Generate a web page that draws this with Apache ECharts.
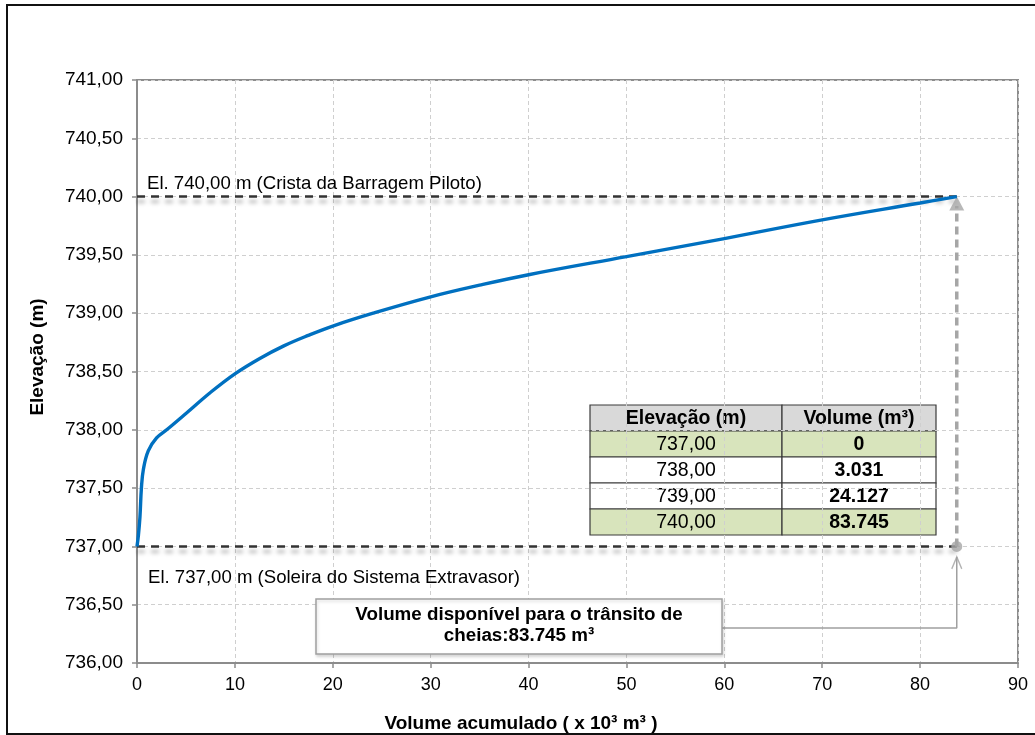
<!DOCTYPE html>
<html>
<head>
<meta charset="utf-8">
<title>Curva cota-volume</title>
<script src="https://cdn.jsdelivr.net/npm/echarts@6/dist/echarts.min.js"></script>
<style>
  html, body { margin: 0; padding: 0; background: #ffffff; }
  #chart { width: 1035px; height: 735px; }
</style>
</head>
<body>
<div id="chart"></div>
<script>
// Curva cota x volume acumulado (volume em 10³ m³, elevação em m)
const curveVolume = [0, 0.15, 0.3, 0.45, 0.65, 1.15, 2.0, 3.031, 5, 7.5, 10, 12.5, 15, 17.5, 20, 24.127, 30, 35, 40, 50, 60, 70, 80, 83.745];
const curveElevation = [737.00, 737.10, 737.25, 737.50, 737.66, 737.82, 737.93, 738.00, 738.14, 738.32, 738.48, 738.61, 738.72, 738.81, 738.89, 739.00, 739.14, 739.24, 739.33, 739.485, 739.64, 739.80, 739.945, 740.00];

// Tabela de cotas e volumes (m³)
const tableElevation = [737, 738, 739, 740];
const tableVolume = [0, 3031, 24127, 83745];
const tableHeader = ['Elevação (m)', 'Volume (m³)'];

// Cotas de referência
const crestElevation = 740;
const spillwayElevation = 737;
const crestLabel = 'El. 740,00 m (Crista da Barragem Piloto)';
const spillwayLabel = 'El. 737,00 m (Soleira do Sistema Extravasor)';
const xTitle = 'Volume acumulado ( x 10³ m³ )';
const yTitle = 'Elevação (m)';

// Volume útil para o trânsito de cheias, em 10³ m³
const floodVolume = tableVolume[tableVolume.length - 1] / 1000;
const fmtThousands = v => v.toLocaleString('de-DE');
const floodText = 'Volume disponível para o trânsito de\ncheias:' + fmtThousands(tableVolume[tableVolume.length - 1]) + ' m³';

// Apoio da seta de anotação (coordenadas do gráfico)
const noteY = 736.30;
const noteX = 59.75;
const noteTipY = 736.91;

const FONT = '"Liberation Sans", Arial, Helvetica, sans-serif';

const chart = echarts.init(document.getElementById('chart'), null, { renderer: 'canvas' });

// Tabela desenhada como grupo de retângulos e textos
function buildTable() {
  const x0 = 590, xMid = 782, x1 = 936;
  const rowsY = [405, 431, 457, 483, 509, 535];
  const fills = ['#d9d9d9', '#d8e4bc', '#ffffff', '#ffffff', '#d8e4bc'];
  const children = [];
  for (let r = 0; r < 5; r++) {
    const y = rowsY[r], h = rowsY[r + 1] - rowsY[r];
    children.push({ type: 'rect', shape: { x: x0, y: y, width: xMid - x0, height: h },
      style: { fill: fills[r], stroke: '#3a3a3a', lineWidth: 1.2 } });
    children.push({ type: 'rect', shape: { x: xMid, y: y, width: x1 - xMid, height: h },
      style: { fill: fills[r], stroke: '#3a3a3a', lineWidth: 1.2 } });
    let left, right, boldLeft, boldRight;
    if (r === 0) {
      left = tableHeader[0]; right = tableHeader[1]; boldLeft = true; boldRight = true;
    } else {
      left = tableElevation[r - 1].toFixed(2).replace('.', ',');
      right = fmtThousands(tableVolume[r - 1]);
      boldLeft = false; boldRight = true;
    }
    children.push({ type: 'text', x: (x0 + xMid) / 2, y: y + h / 2 + 1,
      style: { text: left, fill: '#000', font: (boldLeft ? 'bold ' : '') + '19.5px ' + FONT,
        align: 'center', verticalAlign: 'middle' } });
    children.push({ type: 'text', x: (xMid + x1) / 2, y: y + h / 2 + 1,
      style: { text: right, fill: '#000', font: (boldRight ? 'bold ' : '') + '19.5px ' + FONT,
        align: 'center', verticalAlign: 'middle' } });
  }
  return { type: 'group', z: 100, children: children };
}

const option = {
  animation: false,
  backgroundColor: '#ffffff',
  grid: {
    left: 137, right: 17, top: 80, bottom: 72,
    show: true, borderColor: '#8c8c8c', borderWidth: 2, backgroundColor: 'transparent'
  },
  xAxis: {
    type: 'value', min: 0, max: 90, interval: 10,
    axisLine: { show: true, lineStyle: { color: '#8c8c8c', width: 2 } },
    axisTick: { show: true, inside: false, length: 5, lineStyle: { color: '#8c8c8c', width: 1.5 } },
    axisLabel: { color: '#000', fontFamily: FONT, fontSize: 18, margin: 13 },
    splitLine: { show: true, lineStyle: { color: '#cfcfcf', type: [4, 3], width: 1 } }
  },
  yAxis: {
    type: 'value', min: 736, max: 741, interval: 0.5,
    axisLine: { show: true, lineStyle: { color: '#8c8c8c', width: 2 } },
    axisTick: { show: true, inside: false, length: 5, lineStyle: { color: '#8c8c8c', width: 1.5 } },
    axisLabel: { color: '#000', fontFamily: FONT, fontSize: 19, margin: 14,
      formatter: v => v.toFixed(2).replace('.', ',') },
    splitLine: { show: true, lineStyle: { color: '#cfcfcf', type: [4, 3], width: 1 } }
  },
  series: [
    {
      // Linha da crista (740,00 m)
      type: 'line', silent: true, symbol: 'none', z: 3,
      data: [[0, crestElevation], [floodVolume, crestElevation]],
      lineStyle: { color: '#333333', width: 2.5, type: [8, 6],
        shadowColor: 'rgba(0,0,0,0.35)', shadowBlur: 4, shadowOffsetY: 5 }
    },
    {
      // Linha da soleira (737,00 m)
      type: 'line', silent: true, symbol: 'none', z: 3,
      data: [[0, spillwayElevation], [floodVolume, spillwayElevation]],
      lineStyle: { color: '#333333', width: 2.5, type: [8, 6],
        shadowColor: 'rgba(0,0,0,0.35)', shadowBlur: 4, shadowOffsetY: 5 }
    },
    {
      // Cota vertical do volume útil
      type: 'line', silent: true, symbol: 'none', z: 4,
      data: [[floodVolume, spillwayElevation], [floodVolume, crestElevation - 0.08]],
      lineStyle: { color: '#a6a6a6', width: 3.5, type: [8, 5] }
    },
    {
      // Ponta de seta superior
      type: 'scatter', silent: true, z: 6,
      data: [[floodVolume, crestElevation]],
      symbol: 'triangle', symbolSize: [15, 14], symbolOffset: [0, 7],
      itemStyle: { color: '#a6a6a6' }
    },
    {
      // Marcador inferior
      type: 'scatter', silent: true, z: 6,
      data: [[floodVolume, spillwayElevation]],
      symbol: 'circle', symbolSize: 11,
      itemStyle: { color: '#a6a6a6' }
    },
    {
      // Linha de chamada da anotação
      type: 'line', silent: true, symbol: 'none', z: 5,
      data: [[noteX, noteY], [floodVolume, noteY], [floodVolume, noteTipY]],
      lineStyle: { color: '#a0a0a0', width: 1.5 }
    },
    {
      // Ponta aberta da linha de chamada
      type: 'scatter', silent: true, z: 6,
      data: [[floodVolume, noteTipY]],
      symbol: 'path://M0,12 L5,0 L10,12', symbolSize: [10, 12], symbolOffset: [0, 6],
      itemStyle: { color: 'rgba(0,0,0,0)', borderColor: '#a0a0a0', borderWidth: 1.5 }
    },
    {
      // Curva cota x volume
      type: 'line', name: 'Cota x Volume', symbol: 'none', z: 8,
      smooth: 0.4,
      data: curveVolume.map((v, i) => [v, curveElevation[i]]),
      lineStyle: { color: '#0070c0', width: 3.4 }
    }
  ],
  graphic: [
    {
      type: 'rect', z: 0, silent: true,
      shape: { x: 7, y: 5, width: 1040, height: 729 },
      style: { fill: 'none', stroke: '#111111', lineWidth: 2 }
    },
    {
      type: 'text', z: 50, x: 147, y: 184,
      style: { text: crestLabel, fill: '#000', font: '18.6px ' + FONT, verticalAlign: 'middle' }
    },
    {
      type: 'text', z: 50, x: 148, y: 578,
      style: { text: spillwayLabel, fill: '#000', font: '18.6px ' + FONT, verticalAlign: 'middle' }
    },
    {
      type: 'rect', z: 60, silent: true,
      shape: { x: 316, y: 599, width: 406, height: 55 },
      style: { fill: '#ffffff', stroke: '#a0a0a0', lineWidth: 1.5,
        shadowColor: 'rgba(0,0,0,0.15)', shadowBlur: 3, shadowOffsetX: 1, shadowOffsetY: 2 }
    },
    {
      type: 'text', z: 61, x: 519, y: 625,
      style: { text: floodText, fill: '#000', font: 'bold 18.8px ' + FONT,
        align: 'center', verticalAlign: 'middle', lineHeight: 21 }
    },
    {
      type: 'text', z: 50, x: 521, y: 724,
      style: { text: xTitle, fill: '#000', font: 'bold 19px ' + FONT,
        align: 'center', verticalAlign: 'middle' }
    },
    {
      type: 'text', z: 50, x: 38, y: 357, rotation: Math.PI / 2,
      style: { text: yTitle, fill: '#000', font: 'bold 19px ' + FONT,
        align: 'center', verticalAlign: 'middle' }
    },
    buildTable()
  ]
};

chart.setOption(option);
</script>
</body>
</html>
